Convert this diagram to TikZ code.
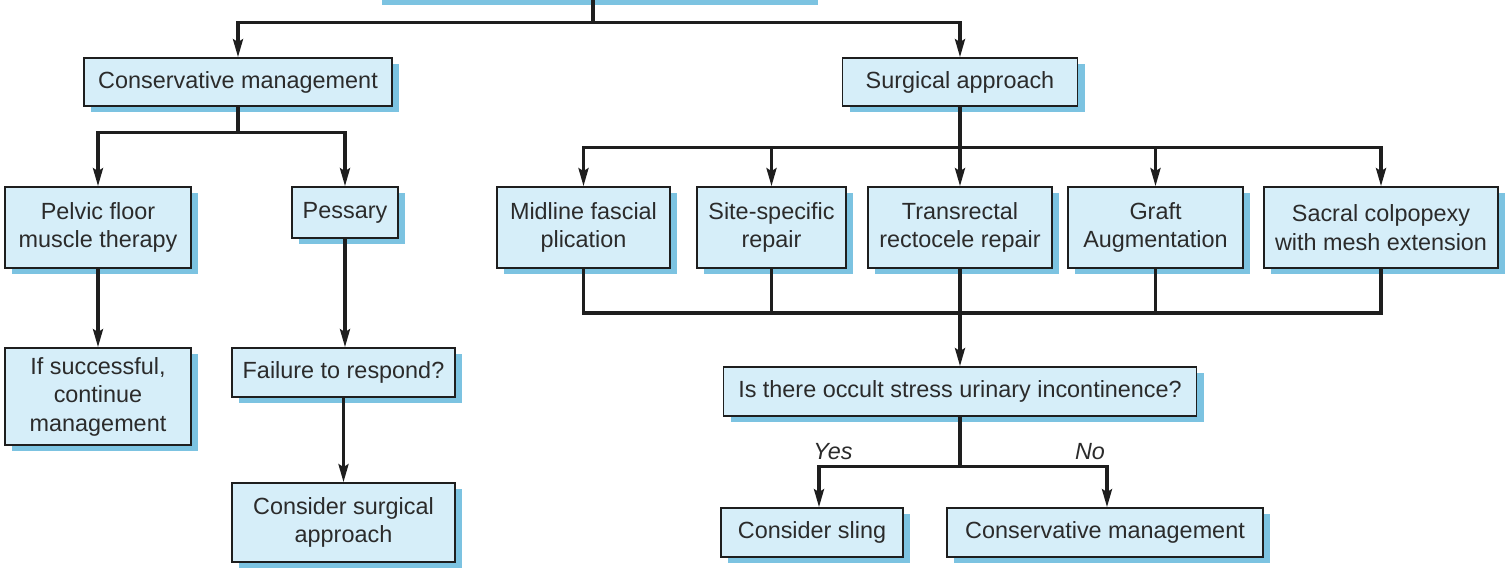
\documentclass[tikz,border=0pt]{standalone}
\usepackage{fontspec}
\setmainfont{Liberation Sans}
\usetikzlibrary{arrows.meta,shadows}
\definecolor{boxfill}{HTML}{D6EEF9}
\definecolor{boxshadow}{HTML}{7CC3E1}
\definecolor{ink}{HTML}{1E1E1E}
\definecolor{txt}{HTML}{2B2B2B}
\begin{document}
\begin{tikzpicture}[x=1pt,y=-1pt,
  box/.style={draw=ink, fill=boxfill, line width=1.7pt, inner sep=0pt, align=center, text=txt,
    font=\fontsize{23.4}{28.5}\selectfont,
    drop shadow={shadow xshift=7pt, shadow yshift=-6pt, fill=boxshadow, opacity=1}},
  conn/.style={draw=ink, line width=3.2pt},
  arr/.style={conn, -{Stealth[length=18pt,width=10pt,inset=3pt]}},
  lab/.style={font=\fontsize{23.4}{28.5}\selectfont\itshape, text=txt, inner sep=0pt}]
\clip (0,0) rectangle (1510,571);

% boxes
\node[box, minimum width=436pt, minimum height=50pt] (root) at (593,-26) {};
\node[box, minimum width=308pt, minimum height=48pt] (cons) at (238,82) {Conservative management};
\node[box, minimum width=235pt, minimum height=48pt] (surg) at (960,82) {Surgical approach};

\node[box, minimum width=186pt, minimum height=81pt] (pelvic) at (98,227.5) {Pelvic floor\\muscle therapy};
\node[box, minimum width=106pt, minimum height=51pt] (pess) at (345,212.5) {Pessary};
\node[box, minimum width=186pt, minimum height=97pt] (succ) at (98,396.5) {If successful,\\continue\\management};
\node[box, minimum width=223pt, minimum height=49pt] (fail) at (343.5,372.5) {Failure to respond?};
\node[box, minimum width=223pt, minimum height=79pt] (consurg) at (343.5,522.5) {Consider surgical\\approach};

\node[box, minimum width=173pt, minimum height=81pt] (mid) at (583.5,227.5) {Midline fascial\\plication};
\node[box, minimum width=149pt, minimum height=81pt] (site) at (771.5,227.5) {Site-specific\\repair};
\node[box, minimum width=184pt, minimum height=81pt] (trans) at (960,227.5) {Transrectal\\rectocele repair};
\node[box, minimum width=175pt, minimum height=81pt] (graft) at (1155.5,227.5) {Graft\\Augmentation};
\node[box, minimum width=234pt, minimum height=81pt] (sacral) at (1381,227.5) {Sacral colpopexy\\with mesh extension};

\node[box, minimum width=473pt, minimum height=49pt] (occult) at (960,391.5) {Is there occult stress urinary incontinence?};
\node[box, minimum width=182pt, minimum height=49pt] (sling) at (812,532.5) {Consider sling};
\node[box, minimum width=316pt, minimum height=49pt] (consb) at (1105,532.5) {Conservative management};

\node[lab] (yes) at (833,452) {Yes};
\node[lab] (no) at (1090,452) {No};

% connectors
\draw[conn] (root.south) -- ++(0,23) coordinate (t1);
\draw[arr] (t1) -| (cons.north);
\draw[arr] (t1) -| (surg.north);

\draw[conn] (cons.south) -- ++(0,26) coordinate (t2);
\draw[arr] (t2) -| (pelvic.north);
\draw[arr] (t2) -| (pess.north);
\draw[arr] (pelvic.south) -- (succ.north);
\draw[arr] (pess.south) -- (pess.south |- fail.north);
\draw[arr] (fail.south) -- (consurg.north);

\draw[conn] (surg.south) -- ++(0,41) coordinate (t3);
\draw[arr] (t3) -| (mid.north);
\draw[arr] (t3) -| (site.north);
\draw[arr] (t3) -- (trans.north);
\draw[arr] (t3) -| (graft.north);
\draw[arr] (t3) -| (sacral.north);

\coordinate (m) at (trans.south |- 0,313);
\draw[conn] (mid.south) |- (m);
\draw[conn] (sacral.south) |- (m);
\draw[conn] (site.south) -- (site.south |- m);
\draw[conn] (graft.south) -- (graft.south |- m);
\draw[arr] (trans.south) -- (occult.north);

\draw[conn] (occult.south) -- ++(0,50) coordinate (t4);
\draw[arr] (t4) -| ([xshift=7pt]sling.north);
\draw[arr] (t4) -| ([xshift=2pt]consb.north);
\end{tikzpicture}
\end{document}
